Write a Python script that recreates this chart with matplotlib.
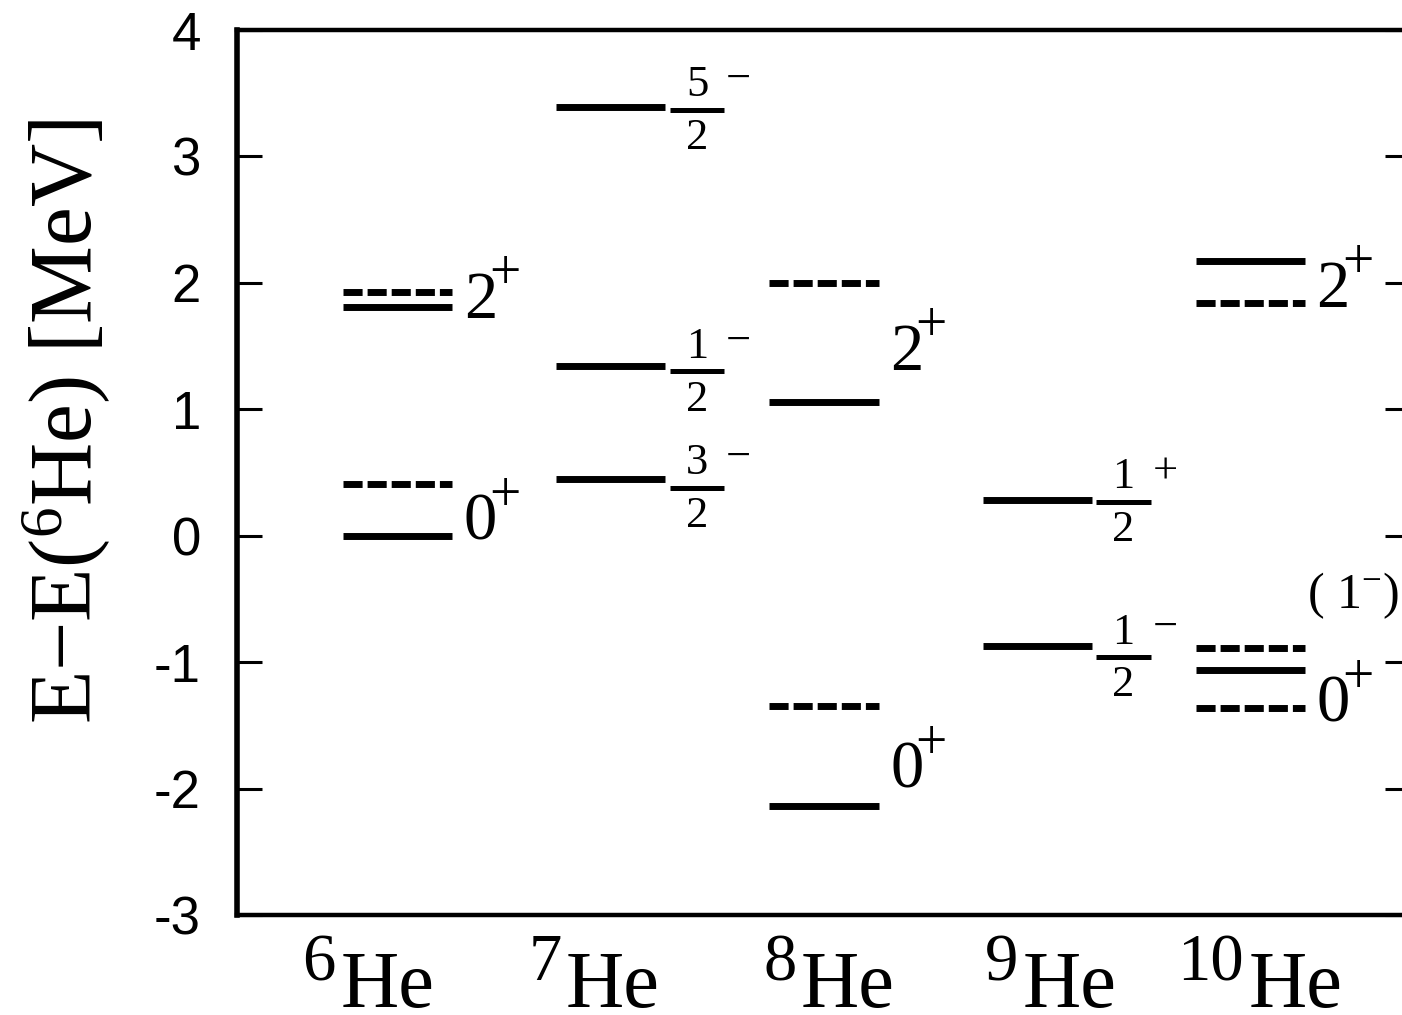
import matplotlib
matplotlib.use("Agg")
import matplotlib.pyplot as plt

plt.rcParams["mathtext.fontset"] = "custom"
plt.rcParams["mathtext.rm"] = "Liberation Serif"
plt.rcParams["mathtext.it"] = "Liberation Serif:italic"
plt.rcParams["axes.unicode_minus"] = False

SERIF = "Liberation Serif"
SANS = "Liberation Sans"

# ── level energies (MeV, relative to 6He g.s.) ──
mass_numbers = ["6", "7", "8", "9", "10"]
label_x = [0.72, 1.78, 2.88, 3.92, 4.98]     # split point between A and "He"

he6_solid = [0.00, 1.81]
he6_dashed = [0.41, 1.93]
he7_solid = [0.45, 1.34, 3.39]
he7_short = [0.38, 1.30, 3.37]
he8_solid = [-2.14, 1.06]
he8_dashed = [-1.35, 2.00]
he9_solid = [-0.87, 0.28]
he9_short = [-0.96, 0.27]
he10_solid = [-1.06, 2.17]
he10_dashed = [-1.36, -0.89, 1.84]

# spin labels: (J, parity, baseline y)
he6_labels = [("0", "+", -0.03), ("2", "+", 1.725)]
he8_labels = [("0", "+", -1.99), ("2", "+", 1.313)]
he10_labels = [("0", "+", -1.47), ("2", "+", 1.81)]
he10_extra = (r"( 1$^{-}$)", -0.57)

# fraction labels attached to the short (experimental) bars
he7_num = ["3", "1", "5"]
he7_sign = ["\u2212", "\u2212", "\u2212"]
he9_num = ["1", "1"]
he9_sign = ["\u2212", "+"]

yticks = [-3, -2, -1, 0, 1, 2, 3, 4]

HW = 0.256      # half width of a level bar
SHW = 0.127     # half width of the short bar
SOFF = 0.405    # offset of the short bar from the column centre
LW = 5.0
DASH = (0, (2.75, 0.72))

fig = plt.figure(figsize=(14.02, 10.15), dpi=100)
ax = fig.add_axes([237 / 1402, 100 / 1015, (1410 - 237) / 1402, 885 / 1015])
ax.set_xlim(0.246, 5.749)
ax.set_ylim(-3, 4)


def levels(col, ys, dashed=False):
    for y in ys:
        ax.plot([col - HW, col + HW], [y, y], color="black", lw=LW,
                ls=DASH if dashed else "-",
                solid_capstyle="butt", dash_capstyle="butt")


def short_levels(col, ys, nums, signs):
    cx = col + SOFF
    for y, n, s in zip(ys, nums, signs):
        ax.plot([cx - SHW, cx + SHW], [y, y], color="black", lw=3.6,
                solid_capstyle="butt")
        ax.text(cx, y + 0.105, n, ha="center", va="baseline",
                family=SERIF, fontsize=32)
        ax.text(cx, y - 0.31, "2", ha="center", va="baseline",
                family=SERIF, fontsize=32)
        ax.text(cx + 0.195, y + 0.145, s, ha="center", va="baseline",
                family=SERIF, fontsize=32)


def spin_labels(col, labs):
    for j, p, y in labs:
        ax.text(col + 0.31, y, j, ha="left", va="baseline",
                family=SERIF, fontsize=48)
        ax.text(col + 0.43, y + 0.225, p, ha="left", va="baseline",
                family=SERIF, fontsize=40)


levels(1, he6_solid)
levels(1, he6_dashed, dashed=True)
spin_labels(1, he6_labels)

levels(2, he7_solid)
short_levels(2, he7_short, he7_num, he7_sign)

levels(3, he8_solid)
levels(3, he8_dashed, dashed=True)
spin_labels(3, he8_labels)

levels(4, he9_solid)
short_levels(4, he9_short, he9_num, he9_sign)

levels(5, he10_solid)
levels(5, he10_dashed, dashed=True)
spin_labels(5, he10_labels)
ax.text(5 + 0.265, he10_extra[1], he10_extra[0], ha="left",
        va="baseline", family=SERIF, fontsize=36)

# nucleus names under the axis
xt = ax.get_xaxis_transform()
for a, x in zip(mass_numbers, label_x):
    ax.text(x - 0.01, -0.074, a, transform=xt, ha="right", va="baseline",
            family=SERIF, fontsize=48, clip_on=False)
    ax.text(x + 0.01, -0.104, "He", transform=xt, ha="left", va="baseline",
            family=SERIF, fontsize=58, clip_on=False)

ax.set_xticks([])
ax.set_yticks(yticks)
ax.set_yticklabels([str(t) for t in yticks], family=SANS)
ax.tick_params(axis="y", direction="in", length=18, width=2.2,
               right=True, labelsize=38, pad=26)
for sp in ax.spines.values():
    sp.set_linewidth(3.2)
ax.spines["left"].set_linewidth(4)

fig.text(0.047, 0.585, "E\u2212E($^{6}$He) [MeV]", rotation=90,
         ha="center", va="center", family=SERIF, fontsize=63)

fig.savefig("out.png", dpi=100)
